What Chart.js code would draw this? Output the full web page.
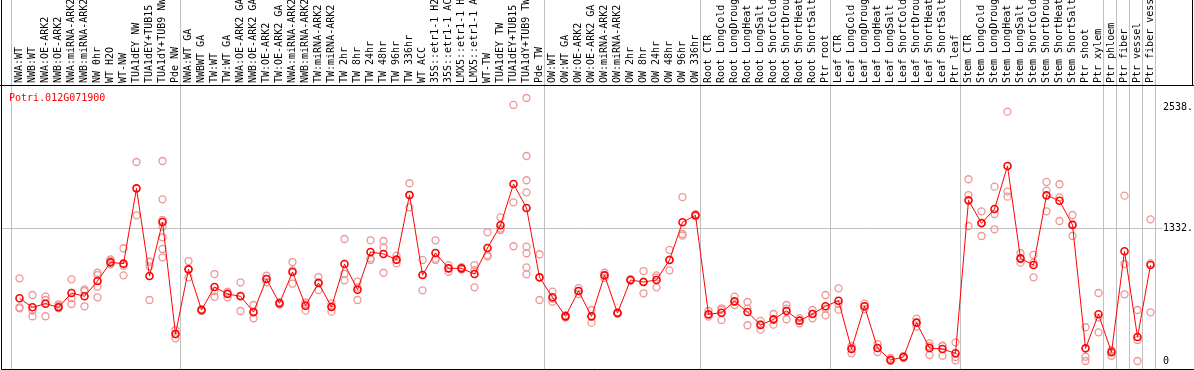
<!DOCTYPE html>
<html>
<head>
<meta charset="utf-8">
<script src="https://cdn.jsdelivr.net/npm/chart.js@4.4.1/dist/chart.umd.min.js"></script>
<style>
  body { margin: 0; background: #fff; }
  canvas { display: block; }
</style>
</head>
<body>
<canvas id="geneChart" width="1194" height="370"></canvas>
<script>
const geneId = 'Potri.012G071900';

const categories = [
  'NWA:WT', 'NWB:WT', 'NWA:OE-ARK2', 'NWB:OE-ARK2', 'NWA:miRNA-ARK2', 'NWB:miRNA-ARK2', 'NW 0hr', 'WT H2O', 'WT-NW',
  'TUA1dEY NW', 'TUA1dEY+TUB15', 'TUA1dY+TUB9 NW', 'Pde NW',
  'NWA:WT GA', 'NWBWT GA', 'TW:WT', 'TW:WT GA', 'NWA:OE-ARK2 GA', 'NWB:OE-ARK2 GA', 'TW:OE-ARK2', 'TW:OE-ARK2 GA',
  'NWA:miRNA-ARK2', 'NWB:miRNA-ARK2', 'TW:miRNA-ARK2', 'TW:miRNA-ARK2', 'TW 2hr', 'TW 8hr', 'TW 24hr', 'TW 48hr',
  'TW 96hr', 'TW 336hr', 'WT ACC', '35S::etr1-1 H2O', '35S::etr1-1 ACC', 'LMX5::etr1-1 H2O', 'LMX5::etr1-1 ACC',
  'WT-TW', 'TUA1dEY TW', 'TUA1dEY+TUB15', 'TUA1dY+TUB9 TW', 'Pde TW',
  'OW:WT', 'OW:WT GA', 'OW:OE-ARK2', 'OW:OE-ARK2 GA', 'OW:miRNA-ARK2', 'OW:miRNA-ARK2', 'OW 2hr', 'OW 8hr',
  'OW 24hr', 'OW 48hr', 'OW 96hr', 'OW 336hr',
  'Root CTR', 'Root LongCold', 'Root LongDrought', 'Root LongHeat', 'Root LongSalt', 'Root ShortCold',
  'Root ShortDrought', 'Root ShortHeat', 'Root ShortSalt', 'Ptr root',
  'Leaf CTR', 'Leaf LongCold', 'Leaf LongDrought', 'Leaf LongHeat', 'Leaf LongSalt', 'Leaf ShortCold',
  'Leaf ShortDrought', 'Leaf ShortHeat', 'Leaf ShortSalt', 'Ptr leaf',
  'Stem CTR', 'Stem LongCold', 'Stem LongDrought', 'Stem LongHeat', 'Stem LongSalt', 'Stem ShortCold',
  'Stem ShortDrought', 'Stem ShortHeat', 'Stem ShortSalt', 'Ptr shoot', 'Ptr xylem',
  'Ptr phloem', 'Ptr fiber', 'Ptr vessel', 'Ptr fiber vessel'
];

// index of the first category of each block (a grey separator is drawn before it)
const groupStarts = [0, 13, 41, 53, 63, 73, 84, 85, 86, 87, 88];

const meanValues = [
  628, 538, 574, 538, 681, 648, 801, 988, 975, 1729, 851, 1392, 270,
  918, 511, 741, 671, 648, 491, 821, 578, 891, 554, 781, 541, 971, 714, 1092, 1072, 1015, 1662, 861, 1082, 928, 928,
  871, 1132, 1359, 1773, 1532, 838,
  638, 447, 701, 447, 858, 481, 811, 791, 811, 1012, 1389, 1459,
  468, 484, 598, 491, 361, 417, 501, 404, 471, 548,
  604, 120, 548, 130, 10, 40, 384, 130, 120, 77,
  1609, 1379, 1522, 1953, 1028, 961, 1659, 1605, 1362, 127, 468,
  87, 1099, 240, 961
];

const replicateValues = [
  [828, 538, 528], [661, 505, 448], [644, 611, 448], [568, 551, 528], [818, 628, 571], [718, 701, 548],
  [884, 861, 744, 638], [1018, 1005, 968], [1129, 954, 858], [1993, 1459], [994, 948, 611],
  [2003, 1619, 1412, 1345, 1239, 1122, 1038], [310, 270, 227],
  [1001, 918, 838], [520, 511, 500], [871, 700, 644], [694, 680, 638], [788, 655, 501], [561, 485, 428],
  [854, 821, 788], [590, 578, 566], [991, 908, 774], [588, 570, 504], [841, 790, 711], [578, 550, 494],
  [1222, 874, 808], [794, 737, 611], [1209, 1028, 1012], [1202, 1135, 884], [1055, 1012, 978],
  [1780, 1662, 1539], [1012, 862, 708], [1209, 1025, 1012], [960, 928, 894], [940, 928, 916],
  [961, 911, 738], [1289, 1060, 1045], [1439, 1326, 1312], [2564, 1589, 1149],
  [2634, 2053, 1810, 1689, 1145, 1079, 938, 868], [1069, 835, 611],
  [694, 625, 594], [460, 447, 434], [730, 701, 671], [511, 447, 384], [884, 858, 832], [490, 481, 472],
  [820, 811, 802], [901, 795, 678], [858, 836, 738], [1112, 1016, 908], [1642, 1272, 1255], [1470, 1459, 1448],
  [501, 460, 444], [528, 512, 411], [644, 590, 561], [591, 525, 358], [401, 368, 314], [471, 416, 364],
  [561, 524, 418], [430, 404, 378], [511, 474, 428], [661, 525, 458],
  [728, 570, 514], [150, 130, 77], [575, 548, 520], [170, 130, 90], [30, 10, 0], [50, 40, 30],
  [424, 384, 345], [177, 150, 60], [153, 150, 53], [187, 40, 7],
  [1820, 1662, 1352], [1499, 1386, 1252], [1746, 1472, 1319], [2497, 1696, 1646], [1079, 1020, 985],
  [1062, 985, 838], [1793, 1706, 1499], [1770, 1639, 1402], [1462, 1372, 1252], [338, 43, 0], [681, 435, 287],
  [108, 100, 53], [1656, 971, 668], [511, 210, 0], [1419, 978, 488]
];

const yTicks = [0, 1332, 2538];
const yTickLabels = ['0', '1332.', '2538.'];

// one dataset per replicate rank, so every circle sits on its own category
const maxReps = Math.max(...replicateValues.map(r => r.length));
const replicateSets = [];
for (let r = 0; r < maxReps; r++) {
  replicateSets.push({
    label: 'rep ' + (r + 1),
    data: replicateValues.map(vals => (r < vals.length ? vals[r] : null)),
    showLine: false,
    pointRadius: 3.5,
    pointBorderWidth: 1.3,
    pointBackgroundColor: 'rgba(255,255,255,0)',
    pointBorderColor: '#ee9595',
    order: 1
  });
}

const monoFont = { family: "'DejaVu Sans Mono', monospace", size: 10 };

// separators, frame and gene name
const framePlugin = {
  id: 'frame',
  beforeDatasetsDraw(chart) {
    const { ctx, chartArea, scales } = chart;
    const x = scales.x;
    const half = (x.getPixelForValue(1) - x.getPixelForValue(0)) / 2;
    ctx.save();
    ctx.strokeStyle = '#c0c0c0';
    ctx.lineWidth = 1;
    groupStarts.forEach(k => {
      const px = Math.round(x.getPixelForValue(0) + (k * 2 - 1) * half - 2) + 0.5;
      ctx.beginPath();
      ctx.moveTo(px, 0);
      ctx.lineTo(px, chartArea.bottom);
      ctx.stroke();
    });
    const py = Math.round(scales.y.getPixelForValue(yTicks[1])) + 0.5;
    ctx.beginPath();
    ctx.moveTo(1, py);
    ctx.lineTo(chartArea.right + 5, py);
    ctx.stroke();
    ctx.restore();
  },
  afterDraw(chart) {
    const { ctx, chartArea, width } = chart;
    ctx.save();
    ctx.strokeStyle = '#000';
    ctx.lineWidth = 1;
    ctx.beginPath();
    ctx.moveTo(0, chartArea.top - 0.5);
    ctx.lineTo(width, chartArea.top - 0.5);
    ctx.moveTo(1.5, 0);
    ctx.lineTo(1.5, chartArea.bottom + 0.5);
    ctx.lineTo(width, chartArea.bottom + 0.5);
    ctx.moveTo(width - 1.5, 0);
    ctx.lineTo(width - 1.5, chartArea.top);
    ctx.stroke();
    ctx.fillStyle = '#ff0000';
    ctx.font = "10px 'DejaVu Sans Mono', monospace";
    ctx.textBaseline = 'alphabetic';
    ctx.fillText(geneId, 9, chartArea.top + 15);
    ctx.restore();
  }
};

const chartCtx = document.getElementById('geneChart').getContext('2d');
new Chart(chartCtx, {
  type: 'line',
  data: {
    labels: categories,
    datasets: [{
      label: 'mean',
      data: meanValues,
      borderColor: '#ff0000',
      borderWidth: 1,
      pointRadius: 3.5,
      pointBorderWidth: 1.6,
      pointBackgroundColor: 'rgba(255,255,255,0)',
      pointBorderColor: '#ff0000',
      tension: 0,
      order: 0
    }, ...replicateSets]
  },
  options: {
    responsive: false,
    animation: false,
    devicePixelRatio: 1,
    layout: { autoPadding: false, padding: { left: 13, right: 0, top: 0, bottom: 1 } },
    plugins: {
      legend: { display: false },
      tooltip: { enabled: false }
    },
    scales: {
      x: {
        type: 'category',
        position: 'top',
        offset: true,
        grid: { display: false, drawTicks: false },
        border: { display: false },
        afterFit: s => { s.height = 86; s.paddingLeft = 0; s.paddingRight = 0; },
        ticks: {
          autoSkip: false,
          minRotation: 90,
          maxRotation: 90,
          padding: 3,
          labelOffset: 12,
          color: '#000',
          font: monoFont
        }
      },
      y: {
        position: 'right',
        min: -80,
        max: 2754,
        grid: { display: false, drawTicks: false },
        border: { display: false },
        afterFit: s => { s.width = 37; s.paddingTop = 0; s.paddingBottom = 0; },
        afterBuildTicks: s => { s.ticks = yTicks.map(v => ({ value: v })); },
        ticks: {
          padding: 6,
          color: '#000',
          font: monoFont,
          callback: (v) => yTickLabels[yTicks.indexOf(v)]
        }
      }
    }
  },
  plugins: [framePlugin]
});
</script>
</body>
</html>
